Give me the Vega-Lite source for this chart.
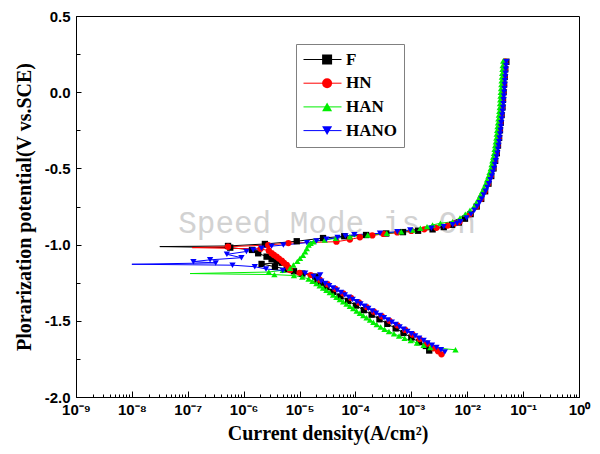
{
  "$schema": "https://vega.github.io/schema/vega-lite/v6.json",
  "width": 503,
  "height": 381,
  "autosize": {"type": "none"},
  "padding": {"left": 76, "top": 16, "right": 21, "bottom": 57},
  "background": "white",
  "config": {
    "view": {"stroke": "black", "strokeWidth": 1},
    "axis": {
      "labelFont": "Liberation Sans", "labelFontWeight": "bold", "labelFontSize": 15, "labelColor": "black",
      "titleFont": "Liberation Serif", "titleFontWeight": "bold", "titleFontSize": 20, "titleColor": "black",
      "domainColor": "black", "tickColor": "black", "tickWidth": 1, "grid": false, "labelFlush": false, "labelOverlap": false, "domainWidth": 1
    }
  },
  "resolve": {"axis": {"x": "independent", "y": "independent"}},
  "datasets": {
    "d": [
      {"s":"F","e":-1.695,"i":2.09e-3},{"s":"F","e":-1.665,"i":1.82e-3},{"s":"F","e":-1.64,"i":1.38e-3},{"s":"F","e":-1.61,"i":1.00e-3},
      {"s":"F","e":-1.58,"i":7.24e-4},{"s":"F","e":-1.55,"i":5.25e-4},{"s":"F","e":-1.52,"i":3.72e-4},{"s":"F","e":-1.49,"i":2.69e-4},
      {"s":"F","e":-1.46,"i":1.95e-4},{"s":"F","e":-1.43,"i":1.41e-4},{"s":"F","e":-1.40,"i":1.02e-4},{"s":"F","e":-1.37,"i":7.41e-5},
      {"s":"F","e":-1.34,"i":5.37e-5},{"s":"F","e":-1.31,"i":3.98e-5},{"s":"F","e":-1.28,"i":3.02e-5},{"s":"F","e":-1.25,"i":2.40e-5},
      {"s":"F","e":-1.23,"i":2.09e-5},{"s":"F","e":-1.21,"i":1.91e-5},{"s":"F","e":-1.19,"i":1.12e-5},{"s":"F","e":-1.175,"i":7.94e-6},
      {"s":"F","e":-1.162,"i":5.89e-6},{"s":"F","e":-1.145,"i":3.63e-6},{"s":"F","e":-1.127,"i":2.09e-6},{"s":"F","e":-1.119,"i":4.79e-6},
      {"s":"F","e":-1.108,"i":3.89e-6},{"s":"F","e":-1.096,"i":3.16e-6},{"s":"F","e":-1.079,"i":2.57e-6},{"s":"F","e":-1.057,"i":1.82e-6},
      {"s":"F","e":-1.035,"i":1.41e-6},{"s":"F","e":-1.02,"i":5.75e-7},{"s":"F","e":-1.013,"i":3.16e-8},{"s":"F","e":-1.009,"i":5.25e-7},
      {"s":"F","e":-0.996,"i":2.40e-6},{"s":"F","e":-0.978,"i":8.91e-6},{"s":"F","e":-0.957,"i":2.63e-5},{"s":"F","e":-0.945,"i":6.31e-5},
      {"s":"F","e":-0.937,"i":1.55e-4},{"s":"F","e":-0.927,"i":3.55e-4},{"s":"F","e":-0.918,"i":7.08e-4},{"s":"F","e":-0.909,"i":1.32e-3},
      {"s":"F","e":-0.90,"i":2.40e-3},{"s":"F","e":-0.885,"i":3.80e-3},{"s":"F","e":-0.87,"i":5.37e-3},{"s":"F","e":-0.855,"i":7.08e-3},
      {"s":"F","e":-0.83,"i":9.12e-3},{"s":"F","e":-0.80,"i":1.15e-2},{"s":"F","e":-0.75,"i":1.48e-2},{"s":"F","e":-0.70,"i":1.78e-2},
      {"s":"F","e":-0.65,"i":2.09e-2},{"s":"F","e":-0.60,"i":2.40e-2},{"s":"F","e":-0.55,"i":2.69e-2},{"s":"F","e":-0.50,"i":2.95e-2},
      {"s":"F","e":-0.45,"i":3.16e-2},{"s":"F","e":-0.40,"i":3.39e-2},{"s":"F","e":-0.35,"i":3.55e-2},{"s":"F","e":-0.30,"i":3.72e-2},
      {"s":"F","e":-0.25,"i":3.85e-2},{"s":"F","e":-0.20,"i":3.98e-2},{"s":"F","e":-0.15,"i":4.12e-2},{"s":"F","e":-0.10,"i":4.27e-2},
      {"s":"F","e":-0.05,"i":4.37e-2},{"s":"F","e":0.00,"i":4.47e-2},{"s":"F","e":0.05,"i":4.57e-2},{"s":"F","e":0.10,"i":4.68e-2},
      {"s":"F","e":0.15,"i":4.79e-2},{"s":"F","e":0.20,"i":5.01e-2},

      {"s":"HN","e":-1.72,"i":3.47e-3},{"s":"HN","e":-1.70,"i":3.02e-3},{"s":"HN","e":-1.68,"i":2.51e-3},{"s":"HN","e":-1.65,"i":1.91e-3},
      {"s":"HN","e":-1.62,"i":1.41e-3},{"s":"HN","e":-1.59,"i":1.05e-3},{"s":"HN","e":-1.56,"i":7.76e-4},{"s":"HN","e":-1.53,"i":5.62e-4},
      {"s":"HN","e":-1.50,"i":4.07e-4},{"s":"HN","e":-1.47,"i":2.95e-4},{"s":"HN","e":-1.44,"i":2.14e-4},{"s":"HN","e":-1.41,"i":1.58e-4},
      {"s":"HN","e":-1.38,"i":1.15e-4},{"s":"HN","e":-1.35,"i":8.32e-5},{"s":"HN","e":-1.32,"i":6.03e-5},{"s":"HN","e":-1.29,"i":4.37e-5},
      {"s":"HN","e":-1.26,"i":3.16e-5},{"s":"HN","e":-1.23,"i":2.29e-5},{"s":"HN","e":-1.20,"i":1.58e-5},{"s":"HN","e":-1.185,"i":1.00e-5},
      {"s":"HN","e":-1.167,"i":6.76e-6},{"s":"HN","e":-1.15,"i":6.31e-6},{"s":"HN","e":-1.134,"i":5.89e-6},{"s":"HN","e":-1.12,"i":5.25e-6},
      {"s":"HN","e":-1.106,"i":4.79e-6},{"s":"HN","e":-1.092,"i":4.27e-6},{"s":"HN","e":-1.079,"i":3.89e-6},{"s":"HN","e":-1.068,"i":3.47e-6},
      {"s":"HN","e":-1.057,"i":3.16e-6},{"s":"HN","e":-1.04,"i":2.82e-6},{"s":"HN","e":-1.028,"i":2.00e-6},{"s":"HN","e":-1.02,"i":1.20e-7},
      {"s":"HN","e":-1.014,"i":5.25e-7},{"s":"HN","e":-1.003,"i":2.75e-6},{"s":"HN","e":-0.99,"i":6.31e-6},{"s":"HN","e":-0.981,"i":4.57e-5},
      {"s":"HN","e":-0.967,"i":7.94e-5},{"s":"HN","e":-0.952,"i":1.20e-4},{"s":"HN","e":-0.94,"i":2.00e-4},{"s":"HN","e":-0.93,"i":3.16e-4},
      {"s":"HN","e":-0.92,"i":5.62e-4},{"s":"HN","e":-0.91,"i":1.00e-3},{"s":"HN","e":-0.90,"i":1.70e-3},{"s":"HN","e":-0.89,"i":2.82e-3},
      {"s":"HN","e":-0.875,"i":4.47e-3},{"s":"HN","e":-0.86,"i":6.03e-3},{"s":"HN","e":-0.85,"i":7.29e-3},{"s":"HN","e":-0.80,"i":1.12e-2},
      {"s":"HN","e":-0.75,"i":1.45e-2},{"s":"HN","e":-0.70,"i":1.75e-2},{"s":"HN","e":-0.65,"i":2.05e-2},{"s":"HN","e":-0.60,"i":2.35e-2},
      {"s":"HN","e":-0.55,"i":2.64e-2},{"s":"HN","e":-0.50,"i":2.90e-2},{"s":"HN","e":-0.45,"i":3.11e-2},{"s":"HN","e":-0.40,"i":3.33e-2},
      {"s":"HN","e":-0.35,"i":3.48e-2},{"s":"HN","e":-0.30,"i":3.65e-2},{"s":"HN","e":-0.25,"i":3.78e-2},{"s":"HN","e":-0.20,"i":3.91e-2},
      {"s":"HN","e":-0.15,"i":4.05e-2},{"s":"HN","e":-0.10,"i":4.19e-2},{"s":"HN","e":-0.05,"i":4.29e-2},{"s":"HN","e":0.00,"i":4.39e-2},
      {"s":"HN","e":0.05,"i":4.49e-2},{"s":"HN","e":0.10,"i":4.60e-2},{"s":"HN","e":0.15,"i":4.70e-2},{"s":"HN","e":0.20,"i":4.79e-2},

      {"s":"HAN","e":-1.69,"i":6.17e-3},{"s":"HAN","e":-1.675,"i":2.19e-3},{"s":"HAN","e":-1.66,"i":1.66e-3},{"s":"HAN","e":-1.645,"i":1.26e-3},
      {"s":"HAN","e":-1.63,"i":9.77e-4},{"s":"HAN","e":-1.615,"i":7.59e-4},{"s":"HAN","e":-1.60,"i":6.03e-4},{"s":"HAN","e":-1.585,"i":4.90e-4},
      {"s":"HAN","e":-1.57,"i":3.98e-4},{"s":"HAN","e":-1.555,"i":3.31e-4},{"s":"HAN","e":-1.54,"i":2.82e-4},{"s":"HAN","e":-1.525,"i":2.40e-4},
      {"s":"HAN","e":-1.51,"i":2.09e-4},{"s":"HAN","e":-1.495,"i":1.82e-4},{"s":"HAN","e":-1.48,"i":1.58e-4},{"s":"HAN","e":-1.465,"i":1.38e-4},
      {"s":"HAN","e":-1.45,"i":1.20e-4},{"s":"HAN","e":-1.435,"i":1.05e-4},{"s":"HAN","e":-1.42,"i":9.12e-5},{"s":"HAN","e":-1.405,"i":7.94e-5},
      {"s":"HAN","e":-1.39,"i":6.92e-5},{"s":"HAN","e":-1.375,"i":6.03e-5},{"s":"HAN","e":-1.36,"i":5.25e-5},{"s":"HAN","e":-1.345,"i":4.57e-5},
      {"s":"HAN","e":-1.33,"i":3.98e-5},{"s":"HAN","e":-1.315,"i":3.47e-5},{"s":"HAN","e":-1.30,"i":3.02e-5},{"s":"HAN","e":-1.285,"i":2.63e-5},
      {"s":"HAN","e":-1.27,"i":2.29e-5},{"s":"HAN","e":-1.255,"i":2.00e-5},{"s":"HAN","e":-1.24,"i":1.70e-5},{"s":"HAN","e":-1.225,"i":1.45e-5},
      {"s":"HAN","e":-1.213,"i":1.12e-5},{"s":"HAN","e":-1.203,"i":7.94e-6},{"s":"HAN","e":-1.197,"i":3.55e-6},{"s":"HAN","e":-1.19,"i":1.10e-7},
      {"s":"HAN","e":-1.18,"i":2.82e-6},{"s":"HAN","e":-1.168,"i":5.01e-6},{"s":"HAN","e":-1.156,"i":6.76e-6},{"s":"HAN","e":-1.134,"i":7.76e-6},
      {"s":"HAN","e":-1.11,"i":9.12e-6},{"s":"HAN","e":-1.09,"i":1.02e-5},{"s":"HAN","e":-1.07,"i":1.15e-5},{"s":"HAN","e":-1.047,"i":1.26e-5},
      {"s":"HAN","e":-1.025,"i":1.35e-5},{"s":"HAN","e":-1.003,"i":1.45e-5},{"s":"HAN","e":-0.991,"i":1.58e-5},{"s":"HAN","e":-0.981,"i":1.78e-5},
      {"s":"HAN","e":-0.97,"i":2.82e-5},{"s":"HAN","e":-0.959,"i":4.47e-5},{"s":"HAN","e":-0.948,"i":7.94e-5},{"s":"HAN","e":-0.937,"i":1.66e-4},
      {"s":"HAN","e":-0.926,"i":3.63e-4},{"s":"HAN","e":-0.915,"i":6.61e-4},{"s":"HAN","e":-0.904,"i":1.05e-3},{"s":"HAN","e":-0.893,"i":1.45e-3},
      {"s":"HAN","e":-0.882,"i":1.91e-3},{"s":"HAN","e":-0.871,"i":2.40e-3},{"s":"HAN","e":-0.86,"i":3.31e-3},{"s":"HAN","e":-0.85,"i":5.46e-3},
      {"s":"HAN","e":-0.825,"i":7.43e-3},{"s":"HAN","e":-0.80,"i":9.24e-3},{"s":"HAN","e":-0.775,"i":1.12e-2},{"s":"HAN","e":-0.75,"i":1.32e-2},
      {"s":"HAN","e":-0.725,"i":1.45e-2},{"s":"HAN","e":-0.70,"i":1.59e-2},{"s":"HAN","e":-0.675,"i":1.72e-2},{"s":"HAN","e":-0.65,"i":1.86e-2},
      {"s":"HAN","e":-0.625,"i":1.99e-2},{"s":"HAN","e":-0.60,"i":2.13e-2},{"s":"HAN","e":-0.575,"i":2.26e-2},{"s":"HAN","e":-0.55,"i":2.40e-2},
      {"s":"HAN","e":-0.525,"i":2.51e-2},{"s":"HAN","e":-0.50,"i":2.63e-2},{"s":"HAN","e":-0.475,"i":2.73e-2},{"s":"HAN","e":-0.45,"i":2.82e-2},
      {"s":"HAN","e":-0.425,"i":2.92e-2},{"s":"HAN","e":-0.40,"i":3.02e-2},{"s":"HAN","e":-0.375,"i":3.09e-2},{"s":"HAN","e":-0.35,"i":3.16e-2},
      {"s":"HAN","e":-0.325,"i":3.24e-2},{"s":"HAN","e":-0.30,"i":3.31e-2},{"s":"HAN","e":-0.275,"i":3.37e-2},{"s":"HAN","e":-0.25,"i":3.43e-2},
      {"s":"HAN","e":-0.225,"i":3.49e-2},{"s":"HAN","e":-0.20,"i":3.55e-2},{"s":"HAN","e":-0.175,"i":3.61e-2},{"s":"HAN","e":-0.15,"i":3.68e-2},
      {"s":"HAN","e":-0.125,"i":3.75e-2},{"s":"HAN","e":-0.10,"i":3.81e-2},{"s":"HAN","e":-0.075,"i":3.85e-2},{"s":"HAN","e":-0.05,"i":3.89e-2},
      {"s":"HAN","e":-0.025,"i":3.94e-2},{"s":"HAN","e":0.00,"i":3.98e-2},{"s":"HAN","e":0.025,"i":4.02e-2},{"s":"HAN","e":0.05,"i":4.08e-2},
      {"s":"HAN","e":0.075,"i":4.12e-2},{"s":"HAN","e":0.10,"i":4.17e-2},{"s":"HAN","e":0.125,"i":4.22e-2},{"s":"HAN","e":0.15,"i":4.27e-2},
      {"s":"HAN","e":0.175,"i":4.31e-2},{"s":"HAN","e":0.205,"i":4.40e-2},

      {"s":"HANO","e":-1.705,"i":3.98e-3},{"s":"HANO","e":-1.69,"i":3.39e-3},{"s":"HANO","e":-1.675,"i":2.82e-3},{"s":"HANO","e":-1.66,"i":2.34e-3},
      {"s":"HANO","e":-1.645,"i":1.95e-3},{"s":"HANO","e":-1.63,"i":1.66e-3},{"s":"HANO","e":-1.615,"i":1.38e-3},{"s":"HANO","e":-1.60,"i":1.17e-3},
      {"s":"HANO","e":-1.585,"i":1.00e-3},{"s":"HANO","e":-1.57,"i":8.51e-4},{"s":"HANO","e":-1.555,"i":7.24e-4},{"s":"HANO","e":-1.54,"i":6.17e-4},
      {"s":"HANO","e":-1.525,"i":5.25e-4},{"s":"HANO","e":-1.51,"i":4.47e-4},{"s":"HANO","e":-1.495,"i":3.80e-4},{"s":"HANO","e":-1.48,"i":3.24e-4},
      {"s":"HANO","e":-1.465,"i":2.75e-4},{"s":"HANO","e":-1.45,"i":2.34e-4},{"s":"HANO","e":-1.435,"i":2.00e-4},{"s":"HANO","e":-1.42,"i":1.70e-4},
      {"s":"HANO","e":-1.405,"i":1.45e-4},{"s":"HANO","e":-1.39,"i":1.23e-4},{"s":"HANO","e":-1.375,"i":1.05e-4},{"s":"HANO","e":-1.36,"i":8.91e-5},
      {"s":"HANO","e":-1.345,"i":7.59e-5},{"s":"HANO","e":-1.33,"i":6.46e-5},{"s":"HANO","e":-1.315,"i":5.50e-5},{"s":"HANO","e":-1.30,"i":4.68e-5},
      {"s":"HANO","e":-1.285,"i":3.98e-5},{"s":"HANO","e":-1.27,"i":3.39e-5},{"s":"HANO","e":-1.255,"i":2.88e-5},{"s":"HANO","e":-1.24,"i":2.45e-5},
      {"s":"HANO","e":-1.225,"i":2.09e-5},{"s":"HANO","e":-1.21,"i":1.78e-5},{"s":"HANO","e":-1.20,"i":2.34e-5},{"s":"HANO","e":-1.188,"i":1.26e-5},
      {"s":"HANO","e":-1.17,"i":5.01e-6},{"s":"HANO","e":-1.16,"i":2.51e-6},{"s":"HANO","e":-1.145,"i":1.58e-6},{"s":"HANO","e":-1.135,"i":6.31e-7},
      {"s":"HANO","e":-1.129,"i":1.00e-8},{"s":"HANO","e":-1.12,"i":3.16e-7},{"s":"HANO","e":-1.112,"i":1.26e-7},{"s":"HANO","e":-1.10,"i":2.51e-7},
      {"s":"HANO","e":-1.086,"i":9.12e-7},{"s":"HANO","e":-1.064,"i":5.01e-7},{"s":"HANO","e":-1.045,"i":1.12e-6},{"s":"HANO","e":-1.035,"i":1.48e-6},
      {"s":"HANO","e":-1.024,"i":2.09e-6},{"s":"HANO","e":-1.01,"i":3.16e-6},{"s":"HANO","e":-1.003,"i":5.13e-6},{"s":"HANO","e":-0.987,"i":1.35e-5},
      {"s":"HANO","e":-0.976,"i":2.00e-5},{"s":"HANO","e":-0.965,"i":3.02e-5},{"s":"HANO","e":-0.954,"i":4.79e-5},{"s":"HANO","e":-0.943,"i":6.61e-5},
      {"s":"HANO","e":-0.935,"i":9.55e-5},{"s":"HANO","e":-0.926,"i":2.75e-4},{"s":"HANO","e":-0.915,"i":5.62e-4},{"s":"HANO","e":-0.904,"i":9.55e-4},
      {"s":"HANO","e":-0.893,"i":2.29e-3},{"s":"HANO","e":-0.882,"i":3.80e-3},{"s":"HANO","e":-0.87,"i":5.50e-3},{"s":"HANO","e":-0.86,"i":6.61e-3},
      {"s":"HANO","e":-0.85,"i":7.59e-3},{"s":"HANO","e":-0.825,"i":9.77e-3},{"s":"HANO","e":-0.80,"i":1.17e-2},{"s":"HANO","e":-0.775,"i":1.35e-2},
      {"s":"HANO","e":-0.75,"i":1.51e-2},{"s":"HANO","e":-0.725,"i":1.66e-2},{"s":"HANO","e":-0.70,"i":1.82e-2},{"s":"HANO","e":-0.675,"i":1.97e-2},
      {"s":"HANO","e":-0.65,"i":2.14e-2},{"s":"HANO","e":-0.625,"i":2.29e-2},{"s":"HANO","e":-0.60,"i":2.45e-2},{"s":"HANO","e":-0.575,"i":2.60e-2},
      {"s":"HANO","e":-0.55,"i":2.75e-2},{"s":"HANO","e":-0.525,"i":2.88e-2},{"s":"HANO","e":-0.50,"i":3.02e-2},{"s":"HANO","e":-0.475,"i":3.13e-2},
      {"s":"HANO","e":-0.45,"i":3.24e-2},{"s":"HANO","e":-0.425,"i":3.35e-2},{"s":"HANO","e":-0.40,"i":3.47e-2},{"s":"HANO","e":-0.375,"i":3.55e-2},
      {"s":"HANO","e":-0.35,"i":3.63e-2},{"s":"HANO","e":-0.325,"i":3.72e-2},{"s":"HANO","e":-0.30,"i":3.80e-2},{"s":"HANO","e":-0.275,"i":3.87e-2},
      {"s":"HANO","e":-0.25,"i":3.94e-2},{"s":"HANO","e":-0.225,"i":4.01e-2},{"s":"HANO","e":-0.20,"i":4.07e-2},{"s":"HANO","e":-0.175,"i":4.15e-2},
      {"s":"HANO","e":-0.15,"i":4.22e-2},{"s":"HANO","e":-0.125,"i":4.30e-2},{"s":"HANO","e":-0.10,"i":4.37e-2},{"s":"HANO","e":-0.075,"i":4.42e-2},
      {"s":"HANO","e":-0.05,"i":4.47e-2},{"s":"HANO","e":-0.025,"i":4.52e-2},{"s":"HANO","e":0.00,"i":4.57e-2},{"s":"HANO","e":0.025,"i":4.62e-2},
      {"s":"HANO","e":0.05,"i":4.68e-2},{"s":"HANO","e":0.075,"i":4.73e-2},{"s":"HANO","e":0.10,"i":4.79e-2},{"s":"HANO","e":0.125,"i":4.84e-2},
      {"s":"HANO","e":0.15,"i":4.90e-2},{"s":"HANO","e":0.175,"i":4.95e-2},{"s":"HANO","e":0.20,"i":5.01e-2}
    ]
  },
  "layer": [
    {
      "data": {"values": [{}]},
      "mark": {"type": "text", "font": "Liberation Mono", "fontSize": 31, "color": "#d2d2d2", "align": "center", "baseline": "middle"},
      "encoding": {
        "x": {
          "datum": 3.1e-5, "type": "quantitative",
          "scale": {"type": "log", "domain": [1e-9, 1], "nice": false},
          "axis": {
            "orient": "bottom", "title": null, "labels": false, "domain": false,
            "ticks": true, "tickSize": -6,
            "values": [1e-9, 1e-8, 1e-7, 1e-6, 1e-5, 1e-4, 1e-3, 1e-2, 0.1, 1]
          }
        },
        "y": {
          "datum": -0.865, "type": "quantitative",
          "scale": {"domain": [-2, 0.5], "nice": false, "zero": false},
          "axis": {
            "orient": "left", "title": null, "labels": false, "domain": false,
            "ticks": true, "tickSize": -5,
            "values": [-2, -1.5, -1, -0.5, 0, 0.5]
          }
        },
        "text": {"value": "Speed Mode is On"}
      }
    },
    {
      "data": {"name": "d"},
      "mark": {"type": "line", "strokeWidth": 1},
      "encoding": {
        "x": {
          "field": "i", "type": "quantitative",
          "axis": {
            "orient": "bottom",
            "title": "Current density(A/cm²)",
            "values": [1e-9, 1e-8, 1e-7, 1e-6, 1e-5, 1e-4, 1e-3, 1e-2, 0.1, 1],
            "labelExpr": "'10' + (round(log(datum.value)/LN10) < 0 ? '⁻' : '') + ['⁰','¹','²','³','⁴','⁵','⁶','⁷','⁸','⁹'][abs(round(log(datum.value)/LN10))]",
            "ticks": false,
            "labelPadding": 5,
            "titlePadding": 6
          }
        },
        "y": {
          "field": "e", "type": "quantitative",
          "axis": {
            "orient": "left",
            "title": "Plorarization potential(V vs.SCE)",
            "values": [-2, -1.5, -1, -0.5, 0, 0.5],
            "labelExpr": "(datum.value < 0 ? '-' : '') + format(abs(datum.value), '.1f')",
            "ticks": false,
            "labelPadding": 6,
            "titlePadding": 10
          }
        },
        "order": {"field": "e", "type": "quantitative"},
        "stroke": {
          "field": "s", "type": "nominal", "sort": ["F", "HN", "HAN", "HANO"],
          "scale": {"range": ["#000000", "#ff0000", "#00ee00", "#0000ff"]},
          "legend": {
            "orient": "none", "legendX": 220, "legendY": 28, "title": null,
            "symbolType": "stroke", "symbolSize": 1444, "symbolStrokeWidth": 1, "clipHeight": 17,
            "labelFont": "Liberation Serif", "labelFontWeight": "bold", "labelFontSize": 17, "labelColor": "black",
            "labelOffset": 4, "padding": 7, "rowPadding": 5.7, "strokeColor": "#808080"
          }
        }
      }
    },
    {
      "data": {"name": "d"},
      "transform": [{"filter": "datum.i > 1.22e-7"}],
      "mark": {"type": "point", "filled": true, "size": 40, "opacity": 1},
      "encoding": {
        "x": {
          "field": "i", "type": "quantitative",
          "axis": {
            "orient": "bottom", "title": null, "labels": false, "domain": false,
            "ticks": true, "tickSize": -3,
            "values": [2e-9,3e-9,4e-9,5e-9,6e-9,7e-9,8e-9,9e-9,2e-8,3e-8,4e-8,5e-8,6e-8,7e-8,8e-8,9e-8,2e-7,3e-7,4e-7,5e-7,6e-7,7e-7,8e-7,9e-7,2e-6,3e-6,4e-6,5e-6,6e-6,7e-6,8e-6,9e-6,2e-5,3e-5,4e-5,5e-5,6e-5,7e-5,8e-5,9e-5,2e-4,3e-4,4e-4,5e-4,6e-4,7e-4,8e-4,9e-4,2e-3,3e-3,4e-3,5e-3,6e-3,7e-3,8e-3,9e-3,2e-2,3e-2,4e-2,5e-2,6e-2,7e-2,8e-2,9e-2,0.2,0.3,0.4,0.5,0.6,0.7,0.8,0.9]
          }
        },
        "y": {
          "field": "e", "type": "quantitative",
          "axis": {
            "orient": "left", "title": null, "labels": false, "domain": false,
            "ticks": true, "tickSize": -4,
            "values": [-1.75, -1.25, -0.75, -0.25, 0.25]
          }
        },
        "color": {
          "field": "s", "type": "nominal",
          "scale": {"domain": ["F", "HN", "HAN", "HANO"], "range": ["#000000", "#ff0000", "#00ee00", "#0000ff"]},
          "legend": {
            "orient": "none", "legendX": 235.6, "legendY": 28, "title": null, "clipHeight": 17,
            "labelFont": "Liberation Serif", "labelFontWeight": "bold", "labelFontSize": 17, "labelOpacity": 0,
            "labelOffset": 4, "padding": 7, "rowPadding": 5.7
          }
        },
        "shape": {
          "field": "s", "type": "nominal",
          "scale": {"domain": ["F", "HN", "HAN", "HANO"], "range": ["square", "circle", "triangle-up", "triangle-down"]},
          "legend": {
            "orient": "none", "legendX": 235.6, "legendY": 28, "title": null, "clipHeight": 17,
            "labelFont": "Liberation Serif", "labelFontWeight": "bold", "labelFontSize": 17, "labelOpacity": 0,
            "labelOffset": 4, "padding": 7, "rowPadding": 5.7
          }
        }
      }
    }
  ]
}
